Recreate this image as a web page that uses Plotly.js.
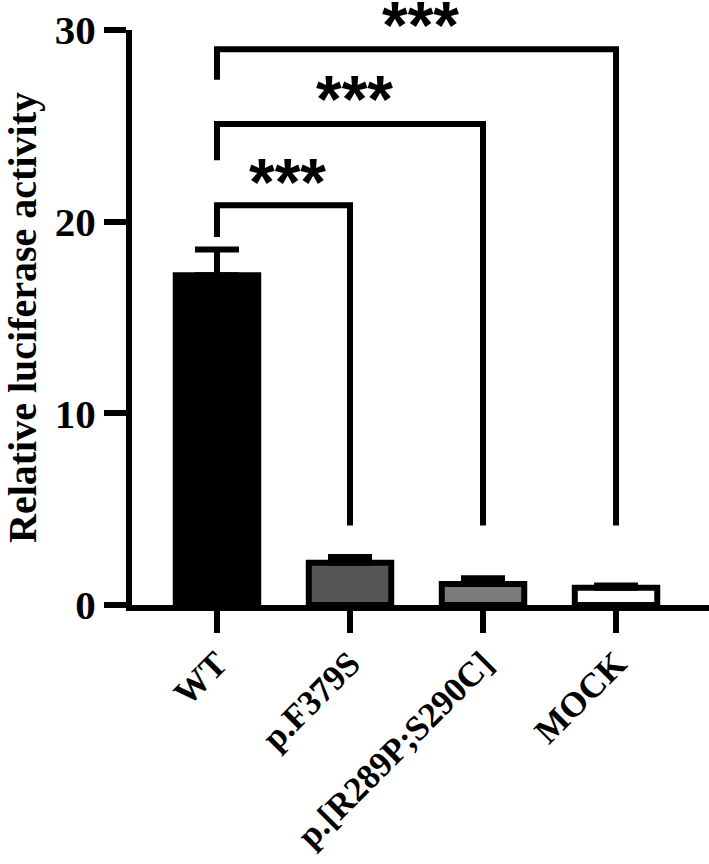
<!DOCTYPE html>
<html>
<head>
<meta charset="utf-8">
<script src="https://cdn.plot.ly/plotly-3.0.1.min.js"></script>
<style>
  html, body { margin: 0; padding: 0; background: #fff; }
  #chart { width: 709px; height: 864px; }
</style>
</head>
<body>
<div id="chart"></div>
<script>
// luciferase reporter — mean + SEM, one-way comparisons vs WT
const categories = ['WT', 'p.F379S', 'p.[R289P;S290C]', 'MOCK'];
const means = [17.2, 2.2, 1.1, 0.9];
const sems = [1.35, 0.3, 0.3, 0.12];

// significance brackets (WT vs each other group)
const compTo = [1, 2, 3];
const bracketTop = [20.85, 25.1, 29.0];
const leftLegEnd = [19.2, 23.2, 27.4];
const rightLegEnd = [4.15, 4.15, 4.15];
const starLevel = [22.6, 26.9, 30.8];
const starText = ['***', '***', '***'];

const Y_MAX = 30;
const FILLS = ['#000000', '#555555', '#7b7b7b', '#ffffff'];
const SERIF = 'Liberation Serif';
const LW = 6;

const xs = categories.map((_, i) => i);

const bars = {
  type: 'bar',
  x: xs,
  y: means,
  width: 0.62,
  marker: { color: FILLS, line: { color: '#000', width: LW } },
  error_y: {
    type: 'data', symmetric: false, array: sems, arrayminus: sems.map(() => 0),
    color: '#000', thickness: LW, width: 22,
  },
  hoverinfo: 'skip',
};

const shapes = compTo.map((j, k) => ({
  type: 'path', xref: 'x', yref: 'y', layer: 'above',
  path: `M 0,${leftLegEnd[k]} L 0,${bracketTop[k]} L ${j},${bracketTop[k]} L ${j},${rightLegEnd[k]}`,
  line: { color: '#000', width: LW },
}));

const annotations = compTo.map((j, k) => ({
  xref: 'x', yref: 'paper', x: j / 2, y: starLevel[k] / Y_MAX,
  text: starText[k], showarrow: false, xanchor: 'center', yanchor: 'middle',
  xshift: 4, yshift: -10,
  font: { family: 'Liberation Sans', size: 66, color: '#000', weight: 'bold' },
}));

const layout = {
  width: 709, height: 864,
  margin: { l: 132, r: 0, t: 30, b: 259 },
  paper_bgcolor: '#fff', plot_bgcolor: '#fff',
  showlegend: false,
  font: { family: SERIF, color: '#000', weight: 'bold' },
  xaxis: {
    range: [-0.639, 3.699], tickvals: xs, ticktext: categories, tickangle: -45,
    showline: true, linecolor: '#000', linewidth: LW,
    ticks: 'outside', ticklen: 22, tickwidth: LW, tickcolor: '#000',
    showgrid: false, zeroline: false, ticklabelstandoff: -4,
    tickfont: { family: SERIF, size: 35, weight: 'bold', color: '#000' },
  },
  yaxis: {
    range: [0, Y_MAX], tickvals: [0, 10, 20, 30],
    showline: true, linecolor: '#000', linewidth: LW,
    ticks: 'outside', ticklen: 22, tickwidth: LW, tickcolor: '#000',
    showgrid: false, zeroline: false,
    tickfont: { family: SERIF, size: 41, weight: 'bold', color: '#000' },
    title: { text: 'Relative luciferase activity', standoff: 10,
      font: { family: SERIF, size: 40, weight: 'bold', color: '#000' } },
  },
  shapes, annotations,
};

Plotly.newPlot('chart', [bars], layout, { displayModeBar: false, staticPlot: true });
</script>
</body>
</html>
